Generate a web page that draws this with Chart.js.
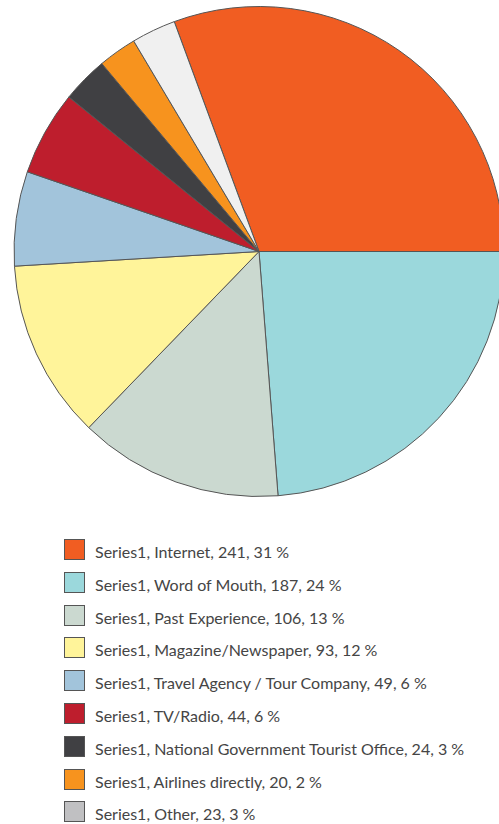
<!DOCTYPE html>
<html lang="en">
<head>
    <meta charset="UTF-8">
    <title>Series1</title>
    <style>
        html, body {
            margin: 0;
            padding: 0;
            width: 499px;
            height: 824px;
            overflow: hidden;
            background: #fff;
            font-family: 'Lato', sans-serif;
        }
        #chart-wrap {
            position: absolute;
            left: 0;
            top: 6px;
            width: 518px;
            height: 491px;
        }
        #legend {
            position: absolute;
            left: 64px;
            top: 539px;
            margin: 0;
            padding: 0;
            list-style: none;
        }
        #legend li {
            display: flex;
            align-items: center;
            height: 21px;
            margin-bottom: 11.8px;
            font-size: 16px;
            color: #454545;
            white-space: nowrap;
        }
        #legend .box {
            width: 19px;
            height: 19px;
            border: 1px solid #555;
            margin-right: 10px;
            flex: none;
        }
        #legend span.txt {
            position: relative;
            top: 2px;
        }
    </style>
</head>
<body>
    <div id="chart-wrap"><canvas id="myChart"></canvas></div>
    <ul id="legend"></ul>

    <script src="https://cdn.jsdelivr.net/npm/chart.js"></script>
    <script>
        const seriesName = 'Series1';
        const categories = ['Internet', 'Word of Mouth', 'Past Experience', 'Magazine/Newspaper', 'Travel Agency / Tour Company', 'TV/Radio', 'National Government Tourist Office', 'Airlines directly', 'Other'];
        const counts = [241, 187, 106, 93, 49, 44, 24, 20, 23];
        const percents = [31, 24, 13, 12, 6, 6, 3, 2, 3];
        const sliceColors = ['#f15d22', '#9bd8dc', '#cbd9d0', '#fff49a', '#a2c4db', '#be1e2d', '#404043', '#f7931e', '#f0f0f0'];
        const legendColors = ['#f15d22', '#9bd8dc', '#cbd9d0', '#fff49a', '#a2c4db', '#be1e2d', '#404043', '#f7931e', '#c0c0c2'];

        // first slice ends at 3 o'clock, so start it back by its own angle
        const total = counts.reduce((a, b) => a + b, 0);
        const startAngle = 90 - counts[0] / total * 360;

        const ctx = document.getElementById('myChart').getContext('2d');
        new Chart(ctx, {
            type: 'pie',
            data: {
                labels: categories,
                datasets: [{
                    label: seriesName,
                    data: counts,
                    backgroundColor: sliceColors,
                    borderColor: '#555',
                    borderWidth: 1
                }]
            },
            options: {
                responsive: true,
                maintainAspectRatio: false,
                animation: false,
                rotation: startAngle,
                layout: { padding: 0 },
                plugins: {
                    legend: { display: false },
                    tooltip: { enabled: false }
                }
            }
        });

        const legend = document.getElementById('legend');
        categories.forEach((cat, i) => {
            const li = document.createElement('li');
            const box = document.createElement('span');
            box.className = 'box';
            box.style.background = legendColors[i];
            const txt = document.createElement('span');
            txt.className = 'txt';
            txt.textContent = seriesName + ', ' + cat + ', ' + counts[i] + ', ' + percents[i] + ' %';
            li.appendChild(box);
            li.appendChild(txt);
            legend.appendChild(li);
        });
    </script>
</body>
</html>
